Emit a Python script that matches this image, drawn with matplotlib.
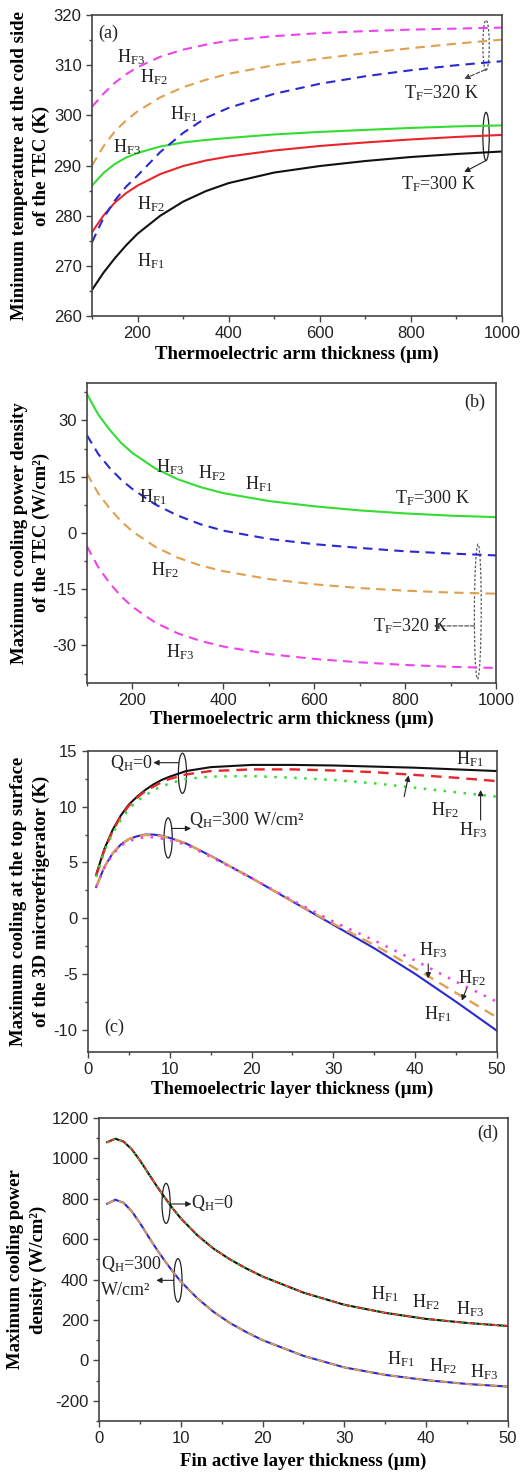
import numpy as np
import matplotlib
matplotlib.use('Agg')
from matplotlib import pyplot as plt
from matplotlib.patches import Ellipse
from matplotlib.ticker import MultipleLocator

plt.rcParams['mathtext.fontset'] = 'custom'
plt.rcParams['mathtext.rm'] = 'Liberation Serif'
plt.rcParams['mathtext.it'] = 'Liberation Serif:italic'
plt.rcParams['mathtext.bf'] = 'Liberation Serif:bold'
plt.rcParams['font.family'] = ['Liberation Sans', 'DejaVu Sans']
plt.rcParams['axes.unicode_minus'] = False

# ---- data ----
# (a) min cold side temperature vs arm thickness
arm = [100, 125, 150, 175, 200, 250, 300, 350, 400, 500, 600, 700, 800, 900, 1000]
a_hf1_300 = [265.2, 268.6, 271.5, 274.1, 276.4, 280.0, 282.8, 284.9, 286.5, 288.6, 289.9, 290.9, 291.7, 292.3, 292.8]
a_hf2_300 = [276.7, 280.0, 282.6, 284.5, 286.0, 288.3, 289.9, 291.0, 291.8, 293.0, 293.9, 294.6, 295.2, 295.7, 296.1]
a_hf3_300 = [286.0, 288.5, 290.3, 291.6, 292.5, 293.8, 294.6, 295.1, 295.5, 296.2, 296.7, 297.1, 297.5, 297.8, 298.0]
a_hf1_320 = [274.7, 279.5, 283.0, 285.8, 288.0, 292.7, 296.5, 299.5, 301.5, 304.3, 306.3, 307.8, 309.0, 310.0, 310.8]
a_hf2_320 = [290.0, 293.8, 296.8, 299.0, 300.8, 303.6, 305.6, 307.1, 308.3, 310.0, 311.3, 312.4, 313.4, 314.3, 315.1]
a_hf3_320 = [301.7, 304.3, 306.5, 308.2, 309.6, 311.7, 313.1, 314.1, 314.9, 315.8, 316.4, 316.8, 317.1, 317.3, 317.5]

# (b) max cooling power density vs arm thickness
b_all_300 = [37.0, 31.5, 27.5, 24.0, 21.3, 17.2, 14.3, 12.2, 10.6, 8.5, 7.1, 6.0, 5.2, 4.6, 4.2]
b_hf1_320 = [26.0, 21.0, 17.3, 14.2, 11.7, 7.6, 4.6, 2.3, 0.6, -1.6, -3.0, -4.0, -4.9, -5.5, -6.0]
b_hf2_320 = [15.8, 10.5, 6.5, 3.1, 0.4, -3.7, -6.6, -8.7, -10.2, -12.3, -13.7, -14.7, -15.4, -15.9, -16.2]
b_hf3_320 = [-3.6, -9.2, -13.4, -16.9, -19.7, -23.9, -26.8, -28.8, -30.3, -32.3, -33.6, -34.5, -35.2, -35.7, -36.0]

# (c) max cooling at top surface vs TE layer thickness
layer = [1, 2, 3, 4, 5, 6, 7, 8, 9, 10, 12, 15, 20, 25, 30, 35, 40, 45, 50]
c_hf1_q0 = [3.9, 6.2, 7.9, 9.2, 10.2, 10.9, 11.5, 12.0, 12.4, 12.7, 13.2, 13.55, 13.75, 13.75, 13.7, 13.6, 13.5, 13.35, 13.2]
c_hf2_q0 = [3.8, 6.1, 7.8, 9.1, 10.1, 10.8, 11.4, 11.8, 12.2, 12.5, 12.9, 13.2, 13.35, 13.35, 13.25, 13.1, 12.85, 12.6, 12.3]
c_hf3_q0 = [3.7, 6.0, 7.6, 8.8, 9.8, 10.5, 11.0, 11.5, 11.8, 12.1, 12.5, 12.7, 12.75, 12.6, 12.4, 12.1, 11.7, 11.3, 10.9]
c_hf1_q300 = [2.8, 4.6, 5.8, 6.6, 7.1, 7.35, 7.5, 7.5, 7.4, 7.2, 6.7, 5.6, 3.6, 1.5, -0.6, -2.7, -5.0, -7.5, -10.1]
c_hf2_q300 = [2.8, 4.6, 5.8, 6.6, 7.1, 7.35, 7.45, 7.45, 7.35, 7.2, 6.7, 5.6, 3.6, 1.5, -0.5, -2.4, -4.5, -6.7, -8.9]
c_hf3_q300 = [2.8, 4.5, 5.7, 6.5, 6.9, 7.15, 7.25, 7.25, 7.15, 7.0, 6.6, 5.5, 3.6, 1.6, -0.3, -2.0, -3.8, -5.7, -7.5]

# (d) max cooling power density vs fin active layer thickness
fin = [1, 2, 3, 4, 5, 6, 7, 8, 9, 10, 12, 14, 16, 18, 20, 25, 30, 35, 40, 45, 50]
d_q0 = [1080, 1097, 1083, 1045, 990, 928, 866, 808, 752, 703, 620, 553, 500, 455, 415, 335, 275, 235, 205, 185, 170]
d_q300 = [775, 795, 780, 738, 680, 615, 553, 495, 440, 390, 308, 240, 185, 140, 100, 22, -35, -72, -98, -117, -130]

BLACK = '#111111'
RED = '#e8262b'
GREEN = '#33dd33'
BLUE = '#2a2ad0'
ORANGE = '#e0a050'
MAGENTA = '#ee44ee'
SPINE = '#444444'
DASH = (0, (4.5, 3))
DOT = (0, (1, 3))

fig = plt.figure(figsize=(5.2, 14.76), dpi=100)


def style_axes(ax, xlabel, ylabel, ylab_x, xlab_y):
    for s in ax.spines.values():
        s.set_color(SPINE)
        s.set_linewidth(1.2)
    ax.tick_params(which='both', direction='out', colors=SPINE, labelcolor='#222222',
                   labelsize=12, width=1)
    ax.tick_params(which='major', length=4)
    ax.tick_params(which='minor', length=2.5)
    ax.set_xlabel(xlabel, family='Liberation Serif', fontweight='bold', fontsize=13.5)
    ax.set_ylabel(ylabel, family='Liberation Serif', fontweight='bold', fontsize=13.5,
                  linespacing=1.4)
    ax.xaxis.set_label_coords(0.5, xlab_y)
    ax.yaxis.set_label_coords(ylab_x, 0.5)


def txt(ax, x, y, s, **kw):
    ax.text(x, y, s, family='Liberation Serif', fontsize=13, color='#222222',
            va='center', ha='left', **kw)


def arrow(ax, head, tail, ls='-', color='#222222'):
    ax.annotate('', xy=head, xytext=tail,
                arrowprops=dict(arrowstyle='-|>', lw=0.8, color=color, linestyle=ls,
                                mutation_scale=8, shrinkA=0, shrinkB=0))


# ---------------- (a) ----------------
ax1 = fig.add_axes([0.1769, 0.7859, 0.7885, 0.2039])
ax1.plot(arm, a_hf1_300, color=BLACK, lw=1.5)
ax1.plot(arm, a_hf2_300, color=RED, lw=1.5)
ax1.plot(arm, a_hf3_300, color=GREEN, lw=1.5)
ax1.plot(arm, a_hf1_320, color=BLUE, lw=1.5, ls=DASH)
ax1.plot(arm, a_hf2_320, color=ORANGE, lw=1.5, ls=DASH)
ax1.plot(arm, a_hf3_320, color=MAGENTA, lw=1.5, ls=DASH)
ax1.set_xlim(100, 1000)
ax1.set_ylim(260, 320)
ax1.xaxis.set_major_locator(MultipleLocator(200))
ax1.xaxis.set_minor_locator(MultipleLocator(100))
ax1.yaxis.set_major_locator(MultipleLocator(10))
ax1.yaxis.set_minor_locator(MultipleLocator(5))
style_axes(ax1, 'Thermoelectric arm thickness (\u03bcm)',
           'Minimum temperature at the cold side\nof the TEC (K)', -0.102, -0.098)
txt(ax1, 113, 316.3, '(a)')
txt(ax1, 154, 311.7, 'H$_{\\rm F3}$')
txt(ax1, 205, 307.7, 'H$_{\\rm F2}$')
txt(ax1, 271, 300.3, 'H$_{\\rm F1}$')
txt(ax1, 147, 293.7, 'H$_{\\rm F3}$')
txt(ax1, 198, 282.3, 'H$_{\\rm F2}$')
txt(ax1, 198, 271.0, 'H$_{\\rm F1}$')
txt(ax1, 785, 304.5, 'T$_{\\rm F}$=320 K')
txt(ax1, 778, 286.3, 'T$_{\\rm F}$=300 K')
ax1.add_patch(Ellipse((965, 314), 14, 10, fill=False, ec='#555555', lw=0.9, ls=(0, (2, 1.5))))
arrow(ax1, (917, 307.3), (963, 309.1), ls='--', color='#444444')
ax1.add_patch(Ellipse((965, 295.8), 14, 9.6, fill=False, ec='#222222', lw=0.9))
arrow(ax1, (917, 288.7), (965, 291.0))

# ---------------- (b) ----------------
ax2 = fig.add_axes([0.1673, 0.5373, 0.7865, 0.2033])
ax2.plot(arm, b_all_300, color=GREEN, lw=1.5)
ax2.plot(arm, b_hf1_320, color=BLUE, lw=1.5, ls=DASH)
ax2.plot(arm, b_hf2_320, color=ORANGE, lw=1.5, ls=DASH)
ax2.plot(arm, b_hf3_320, color=MAGENTA, lw=1.5, ls=DASH)
ax2.set_xlim(100, 1000)
ax2.set_ylim(-40, 40)
ax2.xaxis.set_major_locator(MultipleLocator(200))
ax2.xaxis.set_minor_locator(MultipleLocator(100))
ax2.yaxis.set_major_locator(MultipleLocator(15))
ax2.yaxis.set_minor_locator(MultipleLocator(7.5))
style_axes(ax2, 'Thermoelectric arm thickness (\u03bcm)',
           'Maximum cooling power density\nof the TEC (W/cm\u00b2)', -0.09, -0.093)
txt(ax2, 930, 34.8, '(b)')
txt(ax2, 252, 17.5, 'H$_{\\rm F3}$')
txt(ax2, 344, 15.8, 'H$_{\\rm F2}$')
txt(ax2, 447, 13.1, 'H$_{\\rm F1}$')
txt(ax2, 778, 9.2, 'T$_{\\rm F}$=300 K')
txt(ax2, 215, 9.6, 'H$_{\\rm F1}$')
txt(ax2, 241, -9.8, 'H$_{\\rm F2}$')
txt(ax2, 274, -31.8, 'H$_{\\rm F3}$')
txt(ax2, 730, -24.8, 'T$_{\\rm F}$=320 K')
ax2.add_patch(Ellipse((960, -21), 15, 36, angle=-2, fill=False, ec='#555555', lw=0.9,
                      ls=(0, (2, 1.5))))
arrow(ax2, (862, -24.8), (953, -24.8), ls='--', color='#444444')

# ---------------- (c) ----------------
ax3 = fig.add_axes([0.1692, 0.2873, 0.7865, 0.2039])
ax3.plot(layer, c_hf1_q0, color=BLACK, lw=1.5)
ax3.plot(layer, c_hf2_q0, color=RED, lw=1.7, ls=DASH)
ax3.plot(layer, c_hf3_q0, color=GREEN, lw=1.8, ls=DOT)
ax3.plot(layer, c_hf1_q300, color=BLUE, lw=1.5)
ax3.plot(layer, c_hf2_q300, color=ORANGE, lw=1.7, ls=DASH)
ax3.plot(layer, c_hf3_q300, color=MAGENTA, lw=1.8, ls=DOT)
ax3.set_xlim(0, 50)
ax3.set_ylim(-12, 15)
ax3.xaxis.set_major_locator(MultipleLocator(10))
ax3.xaxis.set_minor_locator(MultipleLocator(5))
ax3.yaxis.set_major_locator(MultipleLocator(5))
ax3.yaxis.set_minor_locator(MultipleLocator(2.5))
style_axes(ax3, 'Themoelectric layer thickness (\u03bcm)',
           'Maximum cooling at the top surface\nof the 3D microrefrigerator (K)', -0.093, -0.096)
txt(ax3, 2.0, -9.8, '(c)')
txt(ax3, 2.65, 13.9, 'Q$_{\\rm H}$=0')
ax3.add_patch(Ellipse((11.55, 13.0), 1.0, 3.6, fill=False, ec='#222222', lw=0.9))
arrow(ax3, (8.0, 13.95), (11.1, 13.95))
txt(ax3, 12.4, 8.8, 'Q$_{\\rm H}$=300 W/cm\u00b2')
ax3.add_patch(Ellipse((9.8, 7.2), 1.0, 3.6, fill=False, ec='#222222', lw=0.9))
arrow(ax3, (12.6, 8.05), (10.25, 8.05))
txt(ax3, 45.0, 14.3, 'H$_{\\rm F1}$')
txt(ax3, 41.9, 9.7, 'H$_{\\rm F2}$')
arrow(ax3, (39.2, 12.8), (38.65, 10.9))
txt(ax3, 45.4, 7.9, 'H$_{\\rm F3}$')
arrow(ax3, (48.0, 11.5), (48.0, 8.8))
txt(ax3, 40.5, -2.9, 'H$_{\\rm F3}$')
arrow(ax3, (41.6, -5.4), (41.6, -4.1))
txt(ax3, 45.2, -5.4, 'H$_{\\rm F2}$')
arrow(ax3, (45.7, -7.4), (46.3, -6.3))
txt(ax3, 41.1, -8.6, 'H$_{\\rm F1}$')

# ---------------- (d) ----------------
ax4 = fig.add_axes([0.1904, 0.0373, 0.7865, 0.2053])
ax4.plot(fin, d_q0, color=BLACK, lw=1.5)
ax4.plot(fin, d_q0, color=RED, lw=1.2, ls=DASH)
ax4.plot(fin, d_q0, color=GREEN, lw=1.2, ls=DOT)
ax4.plot(fin, d_q300, color=BLUE, lw=1.5)
ax4.plot(fin, d_q300, color=ORANGE, lw=1.2, ls=DASH)
ax4.set_xlim(0, 50)
ax4.set_ylim(-300, 1200)
ax4.xaxis.set_major_locator(MultipleLocator(10))
ax4.xaxis.set_minor_locator(MultipleLocator(5))
ax4.yaxis.set_major_locator(MultipleLocator(200))
ax4.yaxis.set_minor_locator(MultipleLocator(100))
style_axes(ax4, 'Fin active layer thickness (\u03bcm)',
           'Maximum cooling power\ndensity (W/cm\u00b2)', -0.127, -0.105)
txt(ax4, 46.3, 1125, '(d)')
txt(ax4, 11.2, 777, 'Q$_{\\rm H}$=0')
ax4.add_patch(Ellipse((8.2, 777), 1.0, 198, fill=False, ec='#222222', lw=0.9))
arrow(ax4, (11.3, 774), (8.7, 774))
txt(ax4, 0.3, 478, 'Q$_{\\rm H}$=300')
txt(ax4, 0.3, 346, 'W/cm\u00b2')
ax4.add_patch(Ellipse((9.65, 396), 1.0, 215, fill=False, ec='#222222', lw=0.9))
arrow(ax4, (7.0, 396), (9.15, 396))
txt(ax4, 33.3, 330, 'H$_{\\rm F1}$')
txt(ax4, 38.3, 288, 'H$_{\\rm F2}$')
txt(ax4, 43.6, 255, 'H$_{\\rm F3}$')
txt(ax4, 35.2, 7, 'H$_{\\rm F1}$')
txt(ax4, 40.3, -27, 'H$_{\\rm F2}$')
txt(ax4, 45.4, -60, 'H$_{\\rm F3}$')

plt.savefig('out.png', dpi=100)
